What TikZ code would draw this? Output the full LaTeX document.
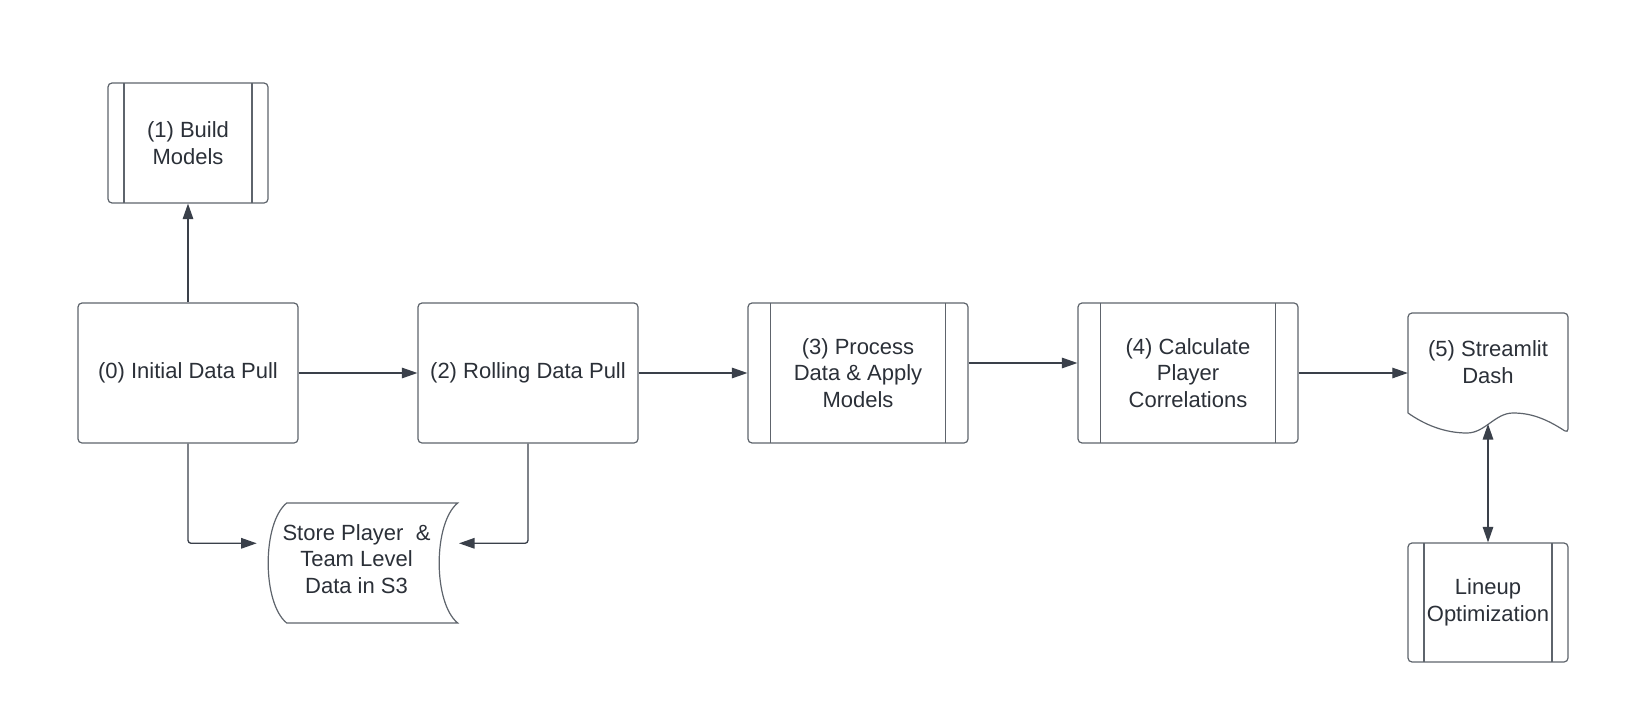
\documentclass[tikz,border=0pt]{standalone}
\usepackage{fontspec}
\setmainfont{Liberation Sans}
\usetikzlibrary{arrows.meta}
\definecolor{boxc}{HTML}{5E646C}
\definecolor{linec}{HTML}{3A404A}
\definecolor{txtc}{HTML}{2B3038}
\begin{document}
\begin{tikzpicture}[x=1pt,y=-1pt,
  every node/.style={font=\fontsize{22}{26.7}\selectfont, text=txtc, align=center},
  box/.style={draw=boxc, line width=1.2pt, rounded corners=4pt, minimum width=220pt, minimum height=140pt, inner sep=0pt},
  subproc/.style={box, path picture={\draw[boxc, line width=1.2pt]
      ([xshift=#1]path picture bounding box.north west) -- ([xshift=#1]path picture bounding box.south west)
      ([xshift=-#1]path picture bounding box.north east) -- ([xshift=-#1]path picture bounding box.south east);}},
  outline/.style={draw=boxc, line width=1.2pt},
  conn/.style={draw=linec, line width=1.3pt, -{Triangle[length=15.5pt,width=10.5pt]}, rounded corners=3pt},
  twoway/.style={draw=linec, line width=1.3pt, {Triangle[length=15.5pt,width=10.5pt]}-{Triangle[length=15.5pt,width=10.5pt]}},
]
\fill[white] (0,0) rectangle (1635,704);
\useasboundingbox (0,0) rectangle (1635,704);

% nodes
\node[subproc=16pt, minimum width=160pt, minimum height=120pt] (build) at (188,143) {(1) Build\\Models};
\node[box] (init) at (188,373) {(0) Initial Data Pull};
\node[box] (roll) at (528,373) {(2) Rolling Data Pull};
\node[subproc=22.5pt] (proc) at (858,373) {(3) Process\\Data \& Apply\\Models};
\node[subproc=22.5pt] (calc) at (1188,373) {(4) Calculate\\Player\\Correlations};
\node[minimum width=160pt, minimum height=120pt, inner sep=0pt] (stream) at (1488,373) {};
\node (streamtxt) at (1488,362) {(5) Streamlit\\Dash};
\node[subproc=16pt, minimum width=160pt, minimum height=119pt] (lineup) at (1488,602.5) {Lineup\\Optimization};
\node[minimum width=190pt, minimum height=120pt, inner sep=0pt] (store) at (372,563) {};
\node (storetxt) at (356.5,559) {Store Player\ \ \&\\Team Level\\Data in S3};

% stored data shape
\draw[outline] (286.7,503) -- (457.7,503) .. controls (433,523) and (433,603) .. (457.7,623)
  -- (286.7,623) .. controls (262,603) and (262,523) .. (286.7,503) -- cycle;

% document shape
\draw[outline, rounded corners=4pt] (1408,413) -- (1408,313) -- (1568,313) -- (1568,433)
  [sharp corners] .. controls (1545,418) and (1530,413) .. (1513,413)
  .. controls (1495,413) and (1485,433) .. (1467,433)
  .. controls (1445,433) and (1425,425) .. (1408,413);

% connectors
\coordinate (sL) at (256.7,543.3);
\coordinate (sR) at (459,543.3);
\coordinate (wave) at (1488,424);
\draw[conn] (init.north) -- (build.south);
\draw[conn] (init.east) -- (roll.west);
\draw[conn] (roll.east) -- (proc.west);
\draw[conn] ([yshift=10pt]proc.east) -- ([yshift=10pt]calc.west);
\draw[conn] (calc.east) -- (stream.west);
\draw[conn] (init.south) |- (sL);
\draw[conn] (roll.south) |- (sR);
\draw[twoway] (wave) -- (lineup.north);
\end{tikzpicture}
\end{document}
